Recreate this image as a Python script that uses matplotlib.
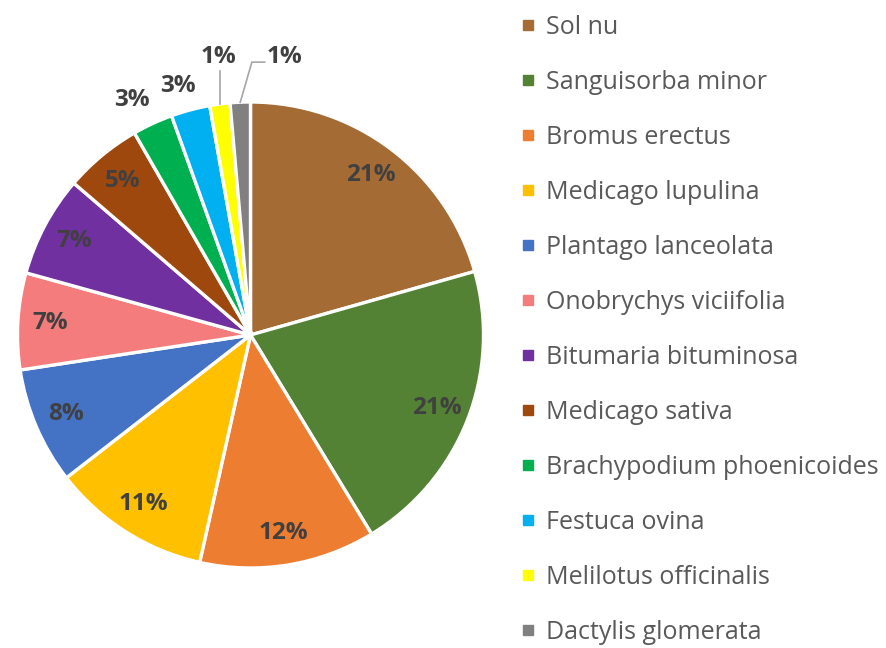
import numpy as np
import matplotlib.pyplot as plt
from matplotlib.lines import Line2D

species = ["Sol nu", "Sanguisorba minor", "Bromus erectus", "Medicago lupulina",
           "Plantago lanceolata", "Onobrychys viciifolia", "Bitumaria bituminosa",
           "Medicago sativa", "Brachypodium phoenicoides", "Festuca ovina",
           "Melilotus officinalis", "Dactylis glomerata"]
shares = [20.6, 20.7, 12.2, 11.0, 8.1, 6.7, 7.0, 5.4, 2.8, 2.7, 1.4, 1.4]
colors = ["#A56B34", "#548235", "#ED7D31", "#FFC000", "#4472C4", "#F47C7C",
          "#7030A0", "#9E480E", "#00B050", "#00B0F0", "#FFFF00", "#808080"]

plt.rcParams['font.family'] = ['Open Sans', 'DejaVu Sans']

fig = plt.figure(figsize=(8.86, 6.48), dpi=100)
ax = fig.add_axes([17 / 886, 80 / 648, 467 / 886, 466 / 648])

wedges, texts, autotexts = ax.pie(
    shares, colors=colors, startangle=90, counterclock=False,
    autopct='%1.0f%%', pctdistance=0.86,
    wedgeprops=dict(edgecolor='white', linewidth=2.4),
    textprops=dict(color='#404040', fontsize=17.5, fontweight='bold'))
ax.set_xlim(-1, 1)
ax.set_ylim(-1, 1)

# small slices get their label outside: index -> (radius, angle shift, leader)
outside = {8: (1.13, 2, None), 9: (1.115, 1.3, None),
           10: (1.2, -1, 'up'), 11: (1.2, -9.5, 'elbow')}
for i, (r, shift, leader) in outside.items():
    w = wedges[i]
    mid = np.deg2rad((w.theta1 + w.theta2) / 2)
    t = mid + np.deg2rad(shift)
    tx, ty = r * np.cos(t), r * np.sin(t)
    autotexts[i].set_position((tx, ty))
    ex, ey = np.cos(mid), np.sin(mid)
    if leader == 'up':
        ax.plot([ex, ex], [ey, ty - 0.06], color='#A6A6A6', lw=1.2, clip_on=False)
    elif leader == 'elbow':
        ax.plot([ex, tx - 0.14, tx - 0.085], [ey, ty - 0.02, ty - 0.02],
                color='#A6A6A6', lw=1.2, clip_on=False)

handles = [Line2D([0], [0], marker='s', ls='', color=c, markersize=7.5) for c in colors]
fig.legend(handles, species, loc='upper left', bbox_to_anchor=(0.587, 0.977),
           frameon=False, fontsize=18, labelcolor='#595959',
           handlelength=0.6, handletextpad=0.42, labelspacing=1.2,
           borderaxespad=0, borderpad=0)

fig.savefig('out.png', dpi=100)
